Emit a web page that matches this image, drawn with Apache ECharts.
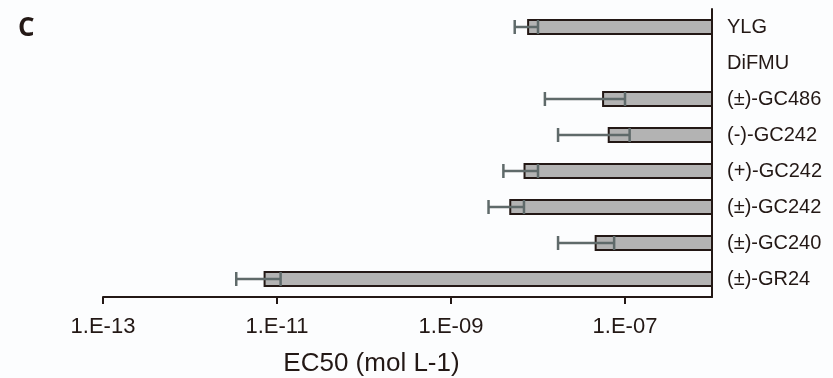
<!DOCTYPE html>
<html lang="en" style="height: 100%">
<head>
<meta charset="utf-8">
<title>EC50 bar chart</title>
</head>
<body style="height: 100%; margin: 0; background: #fcfdfe">
<div id="container" style="width: 833px; height: 378px"></div>

<script type="text/javascript" src="https://cdn.jsdelivr.net/npm/echarts/dist/echarts.min.js"></script>

<script type="text/javascript">

// compounds, top to bottom
var categories = ['YLG', 'DiFMU', '(±)-GC486', '(-)-GC242', '(+)-GC242', '(±)-GC242', '(±)-GC240', '(±)-GR24'];
// EC50 mean and standard deviation (mol L-1); DiFMU has no bar
var ec50Mean = [7.7e-9, null, 5.6e-8, 6.5e-8, 7.0e-9, 4.8e-9, 4.6e-8, 7.2e-12];
var ec50Sd   = [2.3e-9, null, 4.4e-8, 4.8e-8, 3.0e-9, 2.1e-9, 2.9e-8, 3.8e-12];
var tickValues = [1e-13, 1e-11, 1e-9, 1e-7];
var axisMax = 1e-6;

var dom = document.getElementById('container');
var myChart = echarts.init(dom);

var ink = '#231815';
var errColor = '#5f6a6a';
var font = 'Arial, "Liberation Sans", sans-serif';

var points = [];
for (var i = 0; i < categories.length; i++) {
    if (ec50Mean[i] != null) {
        points.push([ec50Mean[i], i, ec50Sd[i]]);
    }
}

function renderBar(params, api) {
    var v = api.value(0);
    var idx = api.value(1);
    var start = api.coord([v, idx]);
    var end = api.coord([axisMax, idx]);
    var h = api.size([0, 1])[1] * 0.39;
    return {
        type: 'rect',
        shape: { x: start[0], y: start[1] - h / 2, width: end[0] - start[0], height: h },
        style: { fill: '#b3b3b3', stroke: ink, lineWidth: 2 }
    };
}

function renderError(params, api) {
    var v = api.value(0);
    var idx = api.value(1);
    var sd = api.value(2);
    var lo = api.coord([v - sd, idx]);
    var hi = api.coord([v + sd, idx]);
    var h = api.size([0, 1])[1] * 0.39;
    var y = lo[1];
    var st = { stroke: errColor, lineWidth: 2.5 };
    return {
        type: 'group',
        children: [
            { type: 'line', shape: { x1: lo[0], y1: y, x2: hi[0], y2: y }, style: st },
            { type: 'line', shape: { x1: lo[0], y1: y - h / 2, x2: lo[0], y2: y + h / 2 }, style: st },
            { type: 'line', shape: { x1: hi[0], y1: y - h / 2, x2: hi[0], y2: y + h / 2 }, style: st }
        ]
    };
}

var option = {
    backgroundColor: '#fcfdfe',
    animation: false,
    textStyle: { fontFamily: font, color: ink },
    title: {
        text: 'C',
        left: 13,
        top: 11,
        textStyle: { fontFamily: 'Open Sans', fontWeight: 'bold', fontSize: 26, color: ink }
    },
    grid: { left: 103, right: 121, top: 9, bottom: 81, outerBoundsMode: 'none', containLabel: false },
    xAxis: {
        type: 'log',
        logBase: 10,
        min: 1e-13,
        max: axisMax,
        name: 'EC50 (mol L-1)',
        nameLocation: 'middle',
        nameGap: 54,
        nameTextStyle: { fontSize: 26, color: ink, fontFamily: font, padding: [0, 72, 0, 0] },
        axisLine: { show: true, lineStyle: { color: ink, width: 2 } },
        axisTick: { show: true, length: 7, customValues: tickValues, lineStyle: { color: ink, width: 2 } },
        axisLabel: {
            customValues: tickValues,
            fontSize: 22,
            fontFamily: font,
            color: ink,
            margin: 19,
            formatter: function (val) {
                var e = Math.round(Math.log10(val));
                var s = String(Math.abs(e));
                if (s.length < 2) s = '0' + s;
                return '1.E-' + s;
            }
        },
        splitLine: { show: false },
        minorTick: { show: false }
    },
    yAxis: {
        type: 'category',
        data: categories,
        inverse: true,
        position: 'right',
        axisLine: { show: true, lineStyle: { color: ink, width: 2 } },
        axisTick: { show: false },
        axisLabel: { fontSize: 20, fontFamily: font, color: ink, margin: 15 },
        splitLine: { show: false }
    },
    series: [
        {
            type: 'custom',
            renderItem: renderBar,
            encode: { x: 0, y: 1 },
            data: points,
            z: 2
        },
        {
            type: 'custom',
            renderItem: renderError,
            encode: { x: 0, y: 1 },
            data: points,
            z: 3
        }
    ]
};

myChart.setOption(option);
window.addEventListener('resize', myChart.resize);
</script>
</body>
</html>
